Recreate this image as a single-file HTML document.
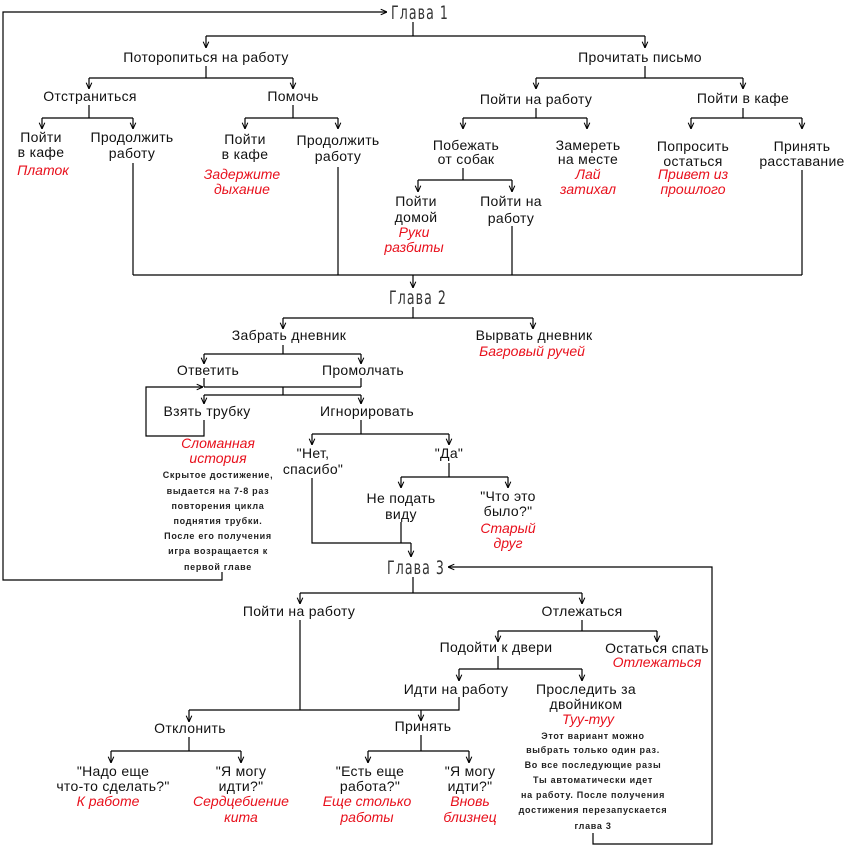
<!DOCTYPE html>
<html><head><meta charset="utf-8"><style>
html,body{margin:0;padding:0;background:#fff}
svg{display:block}
text{font-family:"Liberation Sans","DejaVu Sans",sans-serif;font-size:14px;fill:#111;text-anchor:middle;letter-spacing:0.3px}
.r{fill:#e8101c;font-style:italic;letter-spacing:0}
.n{font-size:9px;font-weight:bold;letter-spacing:0.7px;fill:#222}
.g{font-family:"Liberation Sans Narrow","DejaVu Sans Condensed","Liberation Sans",sans-serif;font-size:19px;font-weight:normal;fill:#333;letter-spacing:1.5px}
line,polyline,path{stroke:#000;stroke-width:1.2;fill:none}
</style></head><body>
<svg width="850" height="850" viewBox="0 0 850 850" xmlns="http://www.w3.org/2000/svg">
<defs>
<marker id="a" viewBox="0 0 10 10" refX="10" refY="5" markerWidth="7" markerHeight="7" orient="auto" markerUnits="userSpaceOnUse">
<path d="M1,1 L10,5 L1,9" style="stroke:#000;stroke-width:1.5;fill:none"/>
</marker>
</defs>

<!-- Chapter 1 -->
<polyline points="222,572 222,580 3,580 3,12 387,12" marker-end="url(#a)"/>
<text class="g" x="420" y="19" textLength="58" lengthAdjust="spacingAndGlyphs">Глава 1</text>
<line x1="413" y1="22" x2="413" y2="36"/>
<line x1="206" y1="36" x2="645" y2="36"/>
<line x1="206" y1="36" x2="206" y2="48" marker-end="url(#a)"/>
<line x1="645" y1="36" x2="645" y2="48" marker-end="url(#a)"/>
<text x="206" y="62">Поторопиться на работу</text>
<text x="640" y="62">Прочитать письмо</text>

<line x1="206" y1="66" x2="206" y2="78"/>
<line x1="89" y1="78" x2="293" y2="78"/>
<line x1="89" y1="78" x2="89" y2="89" marker-end="url(#a)"/>
<line x1="293" y1="78" x2="293" y2="89" marker-end="url(#a)"/>
<text x="90" y="101">Отстраниться</text>
<text x="293" y="101">Помочь</text>

<line x1="89" y1="105" x2="89" y2="118"/>
<line x1="42" y1="118" x2="133" y2="118"/>
<line x1="42" y1="118" x2="42" y2="129" marker-end="url(#a)"/>
<line x1="133" y1="118" x2="133" y2="129" marker-end="url(#a)"/>
<text x="41" y="142">Пойти</text><text x="41" y="157">в кафе</text>
<text class="r" x="43" y="175">Платок</text>
<text x="132" y="142">Продолжить</text><text x="132" y="158">работу</text>
<line x1="133" y1="163" x2="133" y2="275"/>

<line x1="293" y1="105" x2="293" y2="118"/>
<line x1="245" y1="118" x2="338" y2="118"/>
<line x1="245" y1="118" x2="245" y2="129" marker-end="url(#a)"/>
<line x1="338" y1="118" x2="338" y2="129" marker-end="url(#a)"/>
<text x="245" y="144">Пойти</text><text x="245" y="159">в кафе</text>
<text class="r" x="242" y="179">Задержите</text><text class="r" x="242" y="194">дыхание</text>
<text x="338" y="145">Продолжить</text><text x="338" y="161">работу</text>
<line x1="338" y1="167" x2="338" y2="275"/>

<line x1="645" y1="66" x2="645" y2="78"/>
<line x1="536" y1="78" x2="743" y2="78"/>
<line x1="536" y1="78" x2="536" y2="89" marker-end="url(#a)"/>
<line x1="743" y1="78" x2="743" y2="89" marker-end="url(#a)"/>
<text x="536" y="104">Пойти на работу</text>
<text x="743" y="103">Пойти в кафе</text>

<line x1="536" y1="108" x2="536" y2="118"/>
<line x1="463" y1="118" x2="587" y2="118"/>
<line x1="463" y1="118" x2="463" y2="129" marker-end="url(#a)"/>
<line x1="587" y1="118" x2="587" y2="129" marker-end="url(#a)"/>
<text x="466" y="150">Побежать</text><text x="466" y="164">от собак</text>
<text x="588" y="150">Замереть</text><text x="588" y="164">на месте</text>
<text class="r" x="588" y="179">Лай</text><text class="r" x="588" y="194">затихал</text>

<line x1="463" y1="168" x2="463" y2="180"/>
<line x1="418" y1="180" x2="512" y2="180"/>
<line x1="418" y1="180" x2="418" y2="192" marker-end="url(#a)"/>
<line x1="512" y1="180" x2="512" y2="192" marker-end="url(#a)"/>
<text x="416" y="206">Пойти</text><text x="416" y="222">домой</text>
<text class="r" x="414" y="237">Руки</text><text class="r" x="414" y="252">разбиты</text>
<text x="511" y="206">Пойти на</text><text x="511" y="223">работу</text>
<line x1="512" y1="226" x2="512" y2="275"/>

<line x1="743" y1="108" x2="743" y2="118"/>
<line x1="691" y1="118" x2="802" y2="118"/>
<line x1="691" y1="118" x2="691" y2="129" marker-end="url(#a)"/>
<line x1="802" y1="118" x2="802" y2="129" marker-end="url(#a)"/>
<text x="693" y="151">Попросить</text><text x="693" y="166">остаться</text>
<text class="r" x="693" y="179">Привет из</text><text class="r" x="693" y="194">прошлого</text>
<text x="802" y="151">Принять</text><text x="802" y="166">расставание</text>
<line x1="802" y1="170" x2="802" y2="275"/>

<line x1="133" y1="275" x2="802" y2="275"/>
<line x1="413" y1="275" x2="413" y2="288" marker-end="url(#a)"/>

<!-- Chapter 2 -->
<text class="g" x="418" y="304" textLength="58" lengthAdjust="spacingAndGlyphs">Глава 2</text>
<line x1="413" y1="307" x2="413" y2="318"/>
<line x1="283" y1="318" x2="533" y2="318"/>
<line x1="283" y1="318" x2="283" y2="329" marker-end="url(#a)"/>
<line x1="533" y1="318" x2="533" y2="329" marker-end="url(#a)"/>
<text x="289" y="340">Забрать дневник</text>
<text x="534" y="340">Вырвать дневник</text>
<text class="r" x="532" y="356">Багровый ручей</text>

<line x1="283" y1="345" x2="283" y2="354"/>
<line x1="204" y1="354" x2="361" y2="354"/>
<line x1="204" y1="354" x2="204" y2="364" marker-end="url(#a)"/>
<line x1="361" y1="354" x2="361" y2="364" marker-end="url(#a)"/>
<text x="208" y="375">Ответить</text>
<text x="363" y="375">Промолчать</text>

<line x1="204" y1="378" x2="204" y2="387"/>
<line x1="361" y1="378" x2="361" y2="387"/>
<line x1="204" y1="387" x2="361" y2="387"/>
<line x1="283" y1="387" x2="283" y2="395"/>
<line x1="204" y1="395" x2="361" y2="395"/>
<line x1="204" y1="395" x2="204" y2="404" marker-end="url(#a)"/>
<line x1="361" y1="395" x2="361" y2="404" marker-end="url(#a)"/>
<polyline points="204,420 204,436 146,436 146,387 203,387" marker-end="url(#a)"/>
<text x="207" y="416">Взять трубку</text>
<text x="367" y="416">Игнорировать</text>

<text class="r" x="218" y="448">Сломанная</text><text class="r" x="218" y="463">история</text>
<text class="n" x="218" y="478">Скрытое достижение,</text>
<text class="n" x="218" y="494">выдается на 7-8 раз</text>
<text class="n" x="218" y="509">повторения цикла</text>
<text class="n" x="218" y="524">поднятия трубки.</text>
<text class="n" x="218" y="539">После его получения</text>
<text class="n" x="218" y="554">игра возращается к</text>
<text class="n" x="218" y="570">первой главе</text>

<line x1="361" y1="420" x2="361" y2="434"/>
<line x1="312" y1="434" x2="449" y2="434"/>
<line x1="312" y1="434" x2="312" y2="445" marker-end="url(#a)"/>
<line x1="449" y1="434" x2="449" y2="445" marker-end="url(#a)"/>
<text x="313" y="458">"Нет,</text><text x="313" y="474">спасибо"</text>
<text x="449" y="458">"Да"</text>

<line x1="449" y1="463" x2="449" y2="477"/>
<line x1="401" y1="477" x2="508" y2="477"/>
<line x1="401" y1="477" x2="401" y2="488" marker-end="url(#a)"/>
<line x1="508" y1="477" x2="508" y2="488" marker-end="url(#a)"/>
<text x="401" y="503">Не подать</text><text x="401" y="519">виду</text>
<text x="508" y="501">"Что это</text><text x="508" y="516">было?"</text>
<text class="r" x="508" y="533">Старый</text><text class="r" x="508" y="548">друг</text>

<polyline points="312,478 312,543 411,543"/>
<line x1="401" y1="522" x2="401" y2="543"/>
<line x1="411" y1="543" x2="411" y2="557" marker-end="url(#a)"/>

<!-- Chapter 3 -->
<text class="g" x="416" y="574" textLength="58" lengthAdjust="spacingAndGlyphs">Глава 3</text>
<polyline points="593,833 593,844 712,844 712,567 448,567" marker-end="url(#a)"/>
<line x1="413" y1="577" x2="413" y2="593"/>
<line x1="300" y1="593" x2="582" y2="593"/>
<line x1="300" y1="593" x2="300" y2="604" marker-end="url(#a)"/>
<line x1="582" y1="593" x2="582" y2="604" marker-end="url(#a)"/>
<text x="299" y="616">Пойти на работу</text>
<text x="582" y="616">Отлежаться</text>

<line x1="582" y1="620" x2="582" y2="631"/>
<line x1="498" y1="631" x2="657" y2="631"/>
<line x1="498" y1="631" x2="498" y2="642" marker-end="url(#a)"/>
<line x1="657" y1="631" x2="657" y2="642" marker-end="url(#a)"/>
<text x="496" y="652">Подойти к двери</text>
<text x="657" y="653">Остаться спать</text>
<text class="r" x="657" y="667">Отлежаться</text>

<line x1="498" y1="656" x2="498" y2="669"/>
<line x1="459" y1="669" x2="582" y2="669"/>
<line x1="459" y1="669" x2="459" y2="681" marker-end="url(#a)"/>
<line x1="582" y1="669" x2="582" y2="681" marker-end="url(#a)"/>
<text x="456" y="694">Идти на работу</text>
<text x="586" y="694">Проследить за</text><text x="586" y="709">двойником</text>
<text class="r" x="588" y="724">Туу-туу</text>
<text class="n" x="593" y="739">Этот вариант можно</text>
<text class="n" x="593" y="753">выбрать только один раз.</text>
<text class="n" x="593" y="768">Во все последующие разы</text>
<text class="n" x="593" y="783">Ты автоматически идет</text>
<text class="n" x="593" y="798">на работу. После получения</text>
<text class="n" x="593" y="813">достижения перезапускается</text>
<text class="n" x="593" y="829">глава 3</text>

<line x1="300" y1="620" x2="300" y2="710"/>
<polyline points="459,697 459,710 189,710"/>
<line x1="189" y1="710" x2="189" y2="722" marker-end="url(#a)"/>
<line x1="421" y1="710" x2="421" y2="721" marker-end="url(#a)"/>
<text x="190" y="733">Отклонить</text>
<text x="423" y="731">Принять</text>

<line x1="189" y1="737" x2="189" y2="751"/>
<line x1="111" y1="751" x2="241" y2="751"/>
<line x1="111" y1="751" x2="111" y2="763" marker-end="url(#a)"/>
<line x1="241" y1="751" x2="241" y2="763" marker-end="url(#a)"/>
<text x="113" y="776">"Надо еще</text><text x="113" y="791">что-то сделать?"</text>
<text class="r" x="108" y="806">К работе</text>
<text x="241" y="776">"Я могу</text><text x="241" y="791">идти?"</text>
<text class="r" x="241" y="806">Сердцебиение</text><text class="r" x="241" y="822">кита</text>

<line x1="421" y1="735" x2="421" y2="751"/>
<line x1="368" y1="751" x2="469" y2="751"/>
<line x1="368" y1="751" x2="368" y2="763" marker-end="url(#a)"/>
<line x1="469" y1="751" x2="469" y2="763" marker-end="url(#a)"/>
<text x="370" y="776">"Есть еще</text><text x="370" y="791">работа?"</text>
<text class="r" x="367" y="806">Еще столько</text><text class="r" x="367" y="822">работы</text>
<text x="470" y="776">"Я могу</text><text x="470" y="791">идти?"</text>
<text class="r" x="470" y="806">Вновь</text><text class="r" x="470" y="822">близнец</text>
</svg>
</body></html>
